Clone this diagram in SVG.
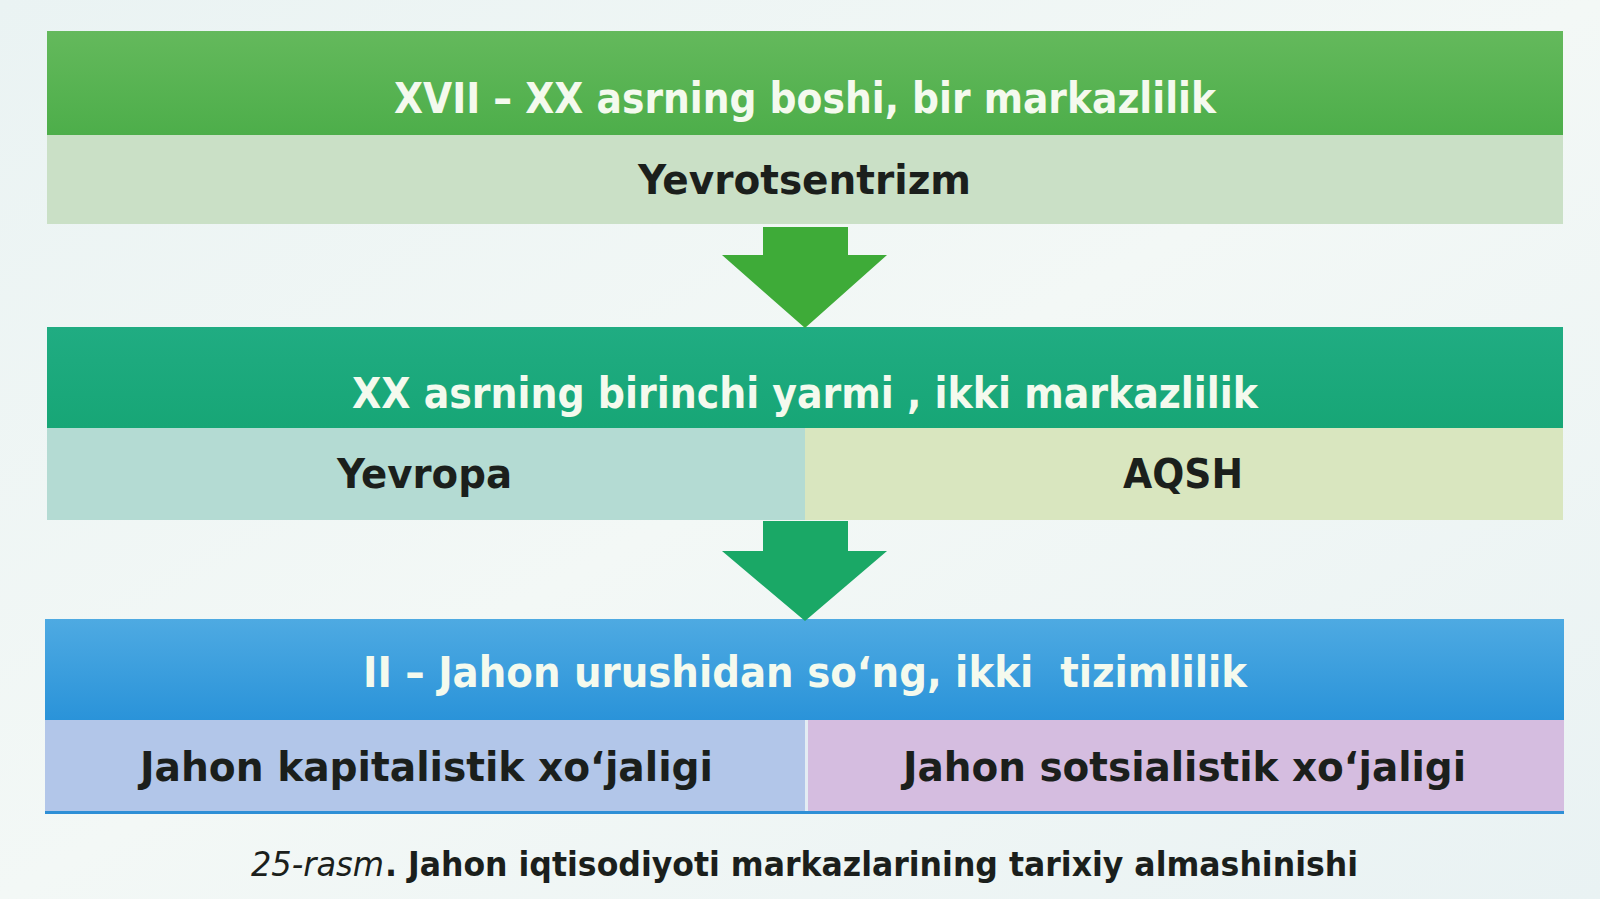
<svg xmlns="http://www.w3.org/2000/svg" width="1600" height="899" viewBox="0 0 1600 899">
<defs>
<linearGradient id="bg" x1="0" y1="0" x2="1" y2="1">
<stop offset="0" stop-color="#eaf3f3"/>
<stop offset="0.5" stop-color="#f3f8f6"/>
<stop offset="1" stop-color="#e9f2f3"/>
</linearGradient>
<linearGradient id="g1" x1="0" y1="0" x2="0" y2="1">
<stop offset="0" stop-color="#64b95c"/>
<stop offset="1" stop-color="#4dae4a"/>
</linearGradient>
<linearGradient id="g2" x1="0" y1="0" x2="0" y2="1">
<stop offset="0" stop-color="#20ac82"/>
<stop offset="1" stop-color="#17a676"/>
</linearGradient>
<linearGradient id="g3" x1="0" y1="0" x2="0" y2="1">
<stop offset="0" stop-color="#4eaae2"/>
<stop offset="1" stop-color="#2a93d9"/>
</linearGradient>
<style>
.hd{font-family:"DejaVu Sans Condensed","Liberation Sans Narrow","Liberation Sans",sans-serif;font-weight:bold;font-size:42px;fill:#f4faee;text-anchor:start}
.sb{font-family:"DejaVu Sans Condensed","Liberation Sans Narrow","Liberation Sans",sans-serif;font-weight:bold;font-size:40px;fill:#1b1f1c}
.cap{font-family:"DejaVu Sans Condensed","Liberation Sans Narrow","Liberation Sans",sans-serif;font-size:33px;fill:#1b1f1c}
</style>
</defs>
<rect width="1600" height="899" fill="url(#bg)"/>

<g id="node1">
<rect x="47" y="31" width="1516" height="104" fill="url(#g1)"/>
<rect x="47" y="135" width="1516" height="89" fill="#cae0c6"/>
<text class="hd" x="394" y="113" textLength="822" lengthAdjust="spacingAndGlyphs">XVII – XX asrning boshi, bir markazlilik</text>
<text class="sb" x="638" y="194" textLength="333" lengthAdjust="spacingAndGlyphs">Yevrotsentrizm</text>
</g>

<g id="node2">
<rect x="47" y="327" width="1516" height="101" fill="url(#g2)"/>
<rect x="47" y="428" width="758" height="92" fill="#b4dbd3"/>
<rect x="805" y="428" width="758" height="92" fill="#d9e6bf"/>
<text class="hd" x="352" y="408" textLength="906" lengthAdjust="spacingAndGlyphs">XX asrning birinchi yarmi , ikki markazlilik</text>
<text class="sb" x="337" y="488" textLength="175" lengthAdjust="spacingAndGlyphs">Yevropa</text>
<text class="sb" x="1123" y="488" textLength="120" lengthAdjust="spacingAndGlyphs">AQSH</text>
</g>

<g id="node3">
<rect x="45" y="619" width="1519" height="101" fill="url(#g3)"/>
<rect x="45" y="720" width="760" height="92" fill="#b2c6e9"/>
<rect x="808" y="720" width="756" height="92" fill="#d5bde0"/>
<rect x="805" y="720" width="3" height="92" fill="#e4ecf3"/>
<rect x="45" y="811" width="1519" height="3" fill="#2e8fd6"/>
<text class="hd" x="363" y="687" textLength="884" lengthAdjust="spacingAndGlyphs" xml:space="preserve">II – Jahon urushidan so‘ng, ikki  tizimlilik</text>
<text class="sb" x="140" y="781" font-size="42" textLength="573" lengthAdjust="spacingAndGlyphs">Jahon kapitalistik xo‘jaligi</text>
<text class="sb" x="903" y="781" font-size="42" textLength="563" lengthAdjust="spacingAndGlyphs">Jahon sotsialistik xo‘jaligi</text>
</g>

<g id="connectors">
<polygon points="763,227 848,227 848,255 887,255 805,328 722,255 763,255" fill="#3eab38"/>
<polygon points="763,521 848,521 848,551 887,551 805,621 722,551 763,551" fill="#1aa866"/>
</g>

<g id="caption">
<text class="cap" x="251" y="876" font-style="italic" textLength="133" lengthAdjust="spacingAndGlyphs">25-rasm</text>
<text class="cap" x="385" y="876" font-weight="bold" textLength="973" lengthAdjust="spacingAndGlyphs">. Jahon iqtisodiyoti markazlarining tarixiy almashinishi</text>
</g>
</svg>
